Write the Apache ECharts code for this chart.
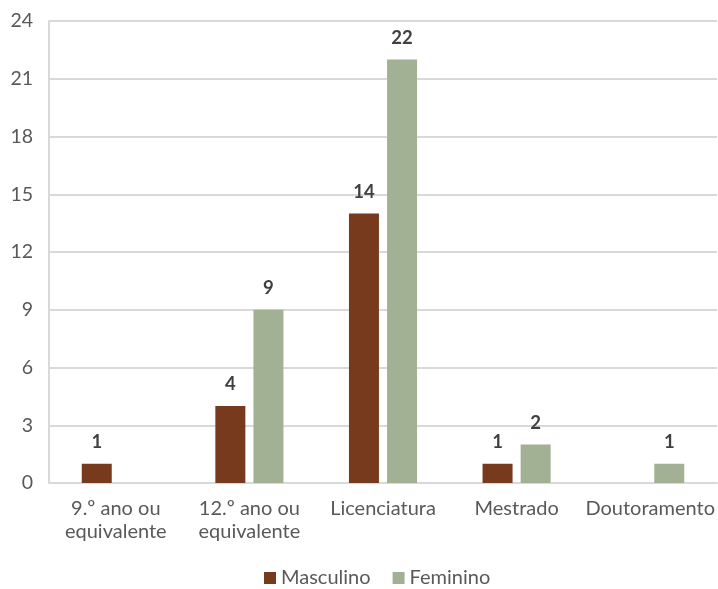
<!DOCTYPE html>
<html>
<head>
<meta charset="utf-8">
<script src="https://cdn.jsdelivr.net/npm/echarts@6/dist/echarts.min.js"></script>
<style>
  html, body { margin: 0; padding: 0; background: #fff; }
  #chart { width: 718px; height: 589px; }
</style>
</head>
<body>
<div id="chart"></div>
<script>
const categories = ["9.º ano ou\nequivalente", "12.º ano ou\nequivalente", "Licenciatura", "Mestrado", "Doutoramento"];
const masculino = [1, 4, 14, 1, null];
const feminino = [null, 9, 22, 2, 1];

const chart = echarts.init(document.getElementById("chart"));
const labelStyle = {
  show: true,
  position: "top",
  distance: 12,
  fontFamily: "Lato",
  fontWeight: "bold",
  fontSize: 18.5,
  color: "#404040"
};
chart.setOption({
  animation: false,
  textStyle: { fontFamily: "Lato" },
  grid: { left: 49, right: 1, top: 21, bottom: 106, containLabel: false },
  legend: {
    top: 563,
    left: 259,
    itemWidth: 12,
    itemHeight: 12,
    itemGap: 22,
    itemStyle: { borderWidth: 0 },
    icon: "rect",
    textStyle: { fontFamily: "Lato", fontSize: 20, color: "#595959" },
    data: ["Masculino", "Feminino"]
  },
  xAxis: {
    type: "category",
    data: categories,
    axisLine: { lineStyle: { color: "#d9d9d9", width: 2 } },
    axisTick: { show: false },
    axisLabel: {
      interval: 0,
      margin: 14,
      fontFamily: "Lato",
      fontSize: 20,
      lineHeight: 23,
      color: "#595959"
    }
  },
  yAxis: {
    type: "value",
    min: 0,
    max: 24,
    interval: 3,
    axisLine: { show: true, lineStyle: { color: "#d9d9d9", width: 2 } },
    splitLine: { lineStyle: { color: "#d9d9d9", width: 2 } },
    axisLabel: { margin: 16, fontFamily: "Lato", fontSize: 19.5, color: "#595959" }
  },
  series: [
    {
      name: "Masculino",
      type: "bar",
      data: masculino,
      barWidth: 30,
      barGap: "27%",
      itemStyle: { color: "#773a1c" },
      label: labelStyle
    },
    {
      name: "Feminino",
      type: "bar",
      data: feminino,
      barWidth: 30,
      itemStyle: { color: "#a2b093" },
      label: labelStyle
    }
  ]
});
</script>
</body>
</html>
